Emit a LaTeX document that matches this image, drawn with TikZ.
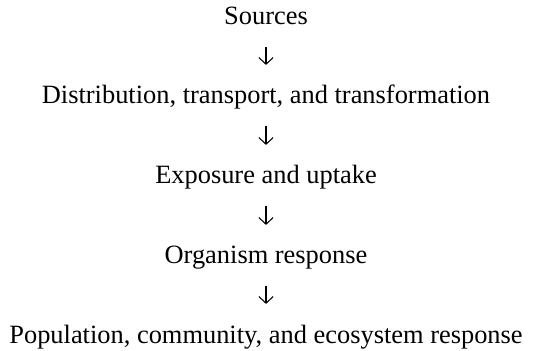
\documentclass[tikz,border=0pt]{standalone}
\usepackage{fontspec}
\setmainfont{Liberation Serif}
\usetikzlibrary{arrows.meta}

\begin{document}
\begin{tikzpicture}[x=0.407pt, y=0.407pt,
    stage/.style={anchor=base, inner sep=0pt, font=\fontsize{10.75}{13}\selectfont},
    flow/.style={-{Straight Barb[length=2.7pt,width=5.8pt]}, line width=0.42pt,
        shorten <=9pt, shorten >=15.9pt}]

    \useasboundingbox (0,0) rectangle (537,-351);

    % --- Stages ---
    \node[stage] (src)  at (266,-25)  {Sources};
    \node[stage] (dist) at (266,-104) {Distribution, transport, and transformation};
    \node[stage] (expo) at (266,-184) {Exposure and uptake};
    \node[stage] (org)  at (266,-264) {Organism response};
    \node[stage] (pop)  at (266,-343) {Population, community, and ecosystem response};

    % --- Flow ---
    \draw[flow] (src.base) -- (dist.base);
    \draw[flow] (dist.base) -- (expo.base);
    \draw[flow] (expo.base) -- (org.base);
    \draw[flow] (org.base) -- (pop.base);

\end{tikzpicture}
\end{document}
